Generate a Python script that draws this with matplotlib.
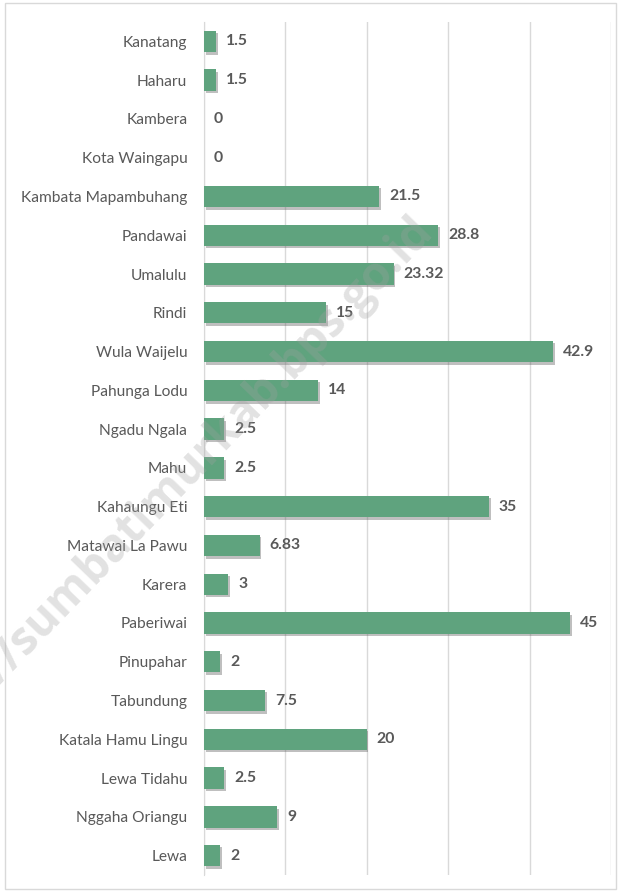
import matplotlib
matplotlib.use("Agg")
import matplotlib.pyplot as plt
import matplotlib.patheffects as pe
from matplotlib.patches import Rectangle

categories = ["Kanatang", "Haharu", "Kambera", "Kota Waingapu", "Kambata Mapambuhang",
              "Pandawai", "Umalulu", "Rindi", "Wula Waijelu", "Pahunga Lodu",
              "Ngadu Ngala", "Mahu", "Kahaungu Eti", "Matawai La Pawu", "Karera",
              "Paberiwai", "Pinupahar", "Tabundung", "Katala Hamu Lingu",
              "Lewa Tidahu", "Nggaha Oriangu", "Lewa"]
values = [1.5, 1.5, 0, 0, 21.5, 28.8, 23.32, 15, 42.9, 14, 2.5, 2.5, 35, 6.83, 3,
          45, 2, 7.5, 20, 2.5, 9, 2]
value_labels = ["1.5", "1.5", "0", "0", "21.5", "28.8", "23.32", "15", "42.9", "14",
                "2.5", "2.5", "35", "6.83", "3", "45", "2", "7.5", "20", "2.5", "9", "2"]
watermark = "https://sumbatimurkab.bps.go.id"

W, H = 621, 891
fig = plt.figure(figsize=(W / 100, H / 100), dpi=100)
fig.patch.set_facecolor("white")

# outer chart border
fig.add_artist(Rectangle((5 / W, 1 - 889 / H), (616 - 5) / W, (889 - 3) / H,
                         transform=fig.transFigure, fill=False,
                         edgecolor="#D9D9D9", linewidth=1))

ax = fig.add_axes([204 / W, 1 - 875 / H, (611 - 204) / W, (875 - 22) / H])
n = len(categories)
ypos = list(range(n))
bars = ax.barh(ypos, values, height=0.55, color="#5FA37E", zorder=3)
for b in bars:
    b.set_path_effects([pe.SimplePatchShadow(offset=(1.2, -1.8), shadow_rgbFace="#606060", alpha=0.4),
                        pe.Normal()])

ax.set_ylim(n - 0.5, -0.5)
ax.set_xlim(0, 50)
ax.set_xticks([0, 10, 20, 30, 40, 50])
ax.set_xticklabels([])
ax.tick_params(axis="x", length=0)
ax.grid(axis="x", color="#D9D9D9", linewidth=1, zorder=0)
ax.set_yticks(ypos)
ax.set_yticklabels(categories, family=["Lato", "DejaVu Sans"], fontsize=11.2, color="#595959")
ax.tick_params(axis="y", length=0, pad=12)
for s in ["top", "right", "bottom"]:
    ax.spines[s].set_visible(False)
ax.spines["left"].set_color("#D9D9D9")

for y, v, lab in zip(ypos, values, value_labels):
    ax.annotate(lab, (v, y), xytext=(10, 0), textcoords="offset pixels",
                ha="left", va="center", fontsize=11.3, fontweight="bold",
                family=["Lato", "DejaVu Sans"], color="#595959", zorder=4)

fig.text(434 / W, 1 - 232 / H, watermark, rotation=46, rotation_mode="anchor",
         ha="right", va="baseline", fontsize=33, fontweight="bold",
         family=["Open Sans", "DejaVu Sans"], color="#A0A0A0", alpha=0.3, zorder=10)

fig.savefig("out.png", dpi=100, facecolor="white")
